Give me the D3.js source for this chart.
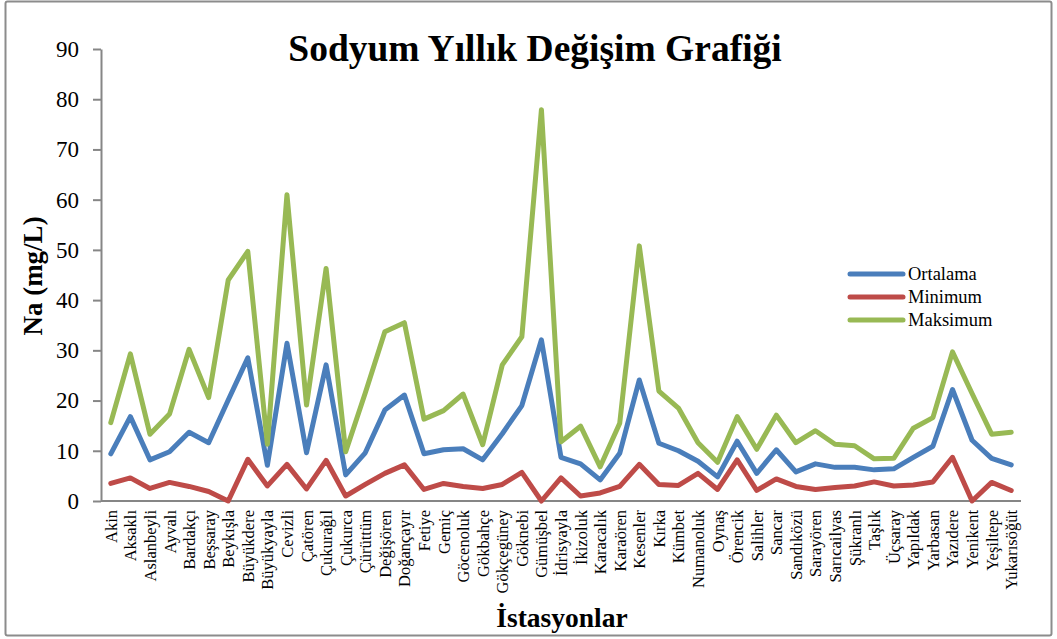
<!DOCTYPE html>
<html><head><meta charset="utf-8">
<script src="https://cdn.jsdelivr.net/npm/d3@7"></script>
<style>body{margin:0;background:#fff}svg{display:block}</style>
</head><body>
<svg id="c" width="1057" height="639"></svg>
<script>
const categories = ["Akin","Aksaklı","Aslanbeyli","Ayvalı","Bardakçı","Beşsaray","Beykışla","Büyükdere","Büyükyayla","Cevizli","Çatören","Çukurağıl","Çukurca","Çürüttüm","Değişören","Doğançayır","Fetiye","Gemiç","Göcenoluk","Gökbahçe","Gökçegüney","Göknebi","Gümüşbel","İdrisyayla","İkizoluk","Karacalık","Karaören","Kesenler","Kırka","Kümbet","Numanoluk","Oynaş","Örencik","Salihler","Sancar","Sandıközü","Sarayören","Sarıcailyas","Şükranlı","Taşlık","Üçsaray","Yapıldak","Yarbasan","Yazıdere","Yenikent","Yeşiltepe","Yukarısöğüt"];
const ortalama = [9.4,16.8,8.2,9.8,13.7,11.6,20.1,28.5,7.1,31.4,9.6,27.1,5.2,9.6,18.1,21.1,9.4,10.2,10.4,8.2,13.4,19.0,32.1,8.7,7.4,4.2,9.5,24.1,11.5,10.0,7.9,4.8,11.9,5.5,10.2,5.8,7.4,6.7,6.7,6.2,6.4,8.7,10.9,22.2,12.1,8.5,7.2];
const minimum = [3.5,4.6,2.5,3.7,2.9,1.9,0,8.3,3.0,7.3,2.4,8.1,1.0,3.3,5.5,7.2,2.3,3.5,2.9,2.5,3.3,5.7,0,4.6,1.0,1.6,2.9,7.3,3.3,3.1,5.5,2.3,8.2,2.1,4.4,2.9,2.3,2.7,3.0,3.8,3.0,3.2,3.8,8.7,0,3.7,2.1];
const maksimum = [15.6,29.3,13.3,17.3,30.2,20.6,44.0,49.7,11.3,61.0,19.1,46.3,9.8,21.5,33.7,35.5,16.3,18.0,21.3,11.2,27.1,32.7,77.9,11.8,14.9,6.8,15.5,50.8,21.9,18.5,11.6,7.7,16.8,10.3,17.1,11.6,14.0,11.3,11.0,8.4,8.5,14.5,16.6,29.7,21.4,13.3,13.7];
const yTicks = [0,10,20,30,40,50,60,70,80,90];
const seriesNames = ["Ortalama","Minimum","Maksimum"];
const seriesColors = ["#4A7EBB","#BE4B48","#98B954"];
const seriesData = [ortalama, minimum, maksimum];

(function(){
const svg = d3.select("#c");
const serif = "Liberation Serif, Times New Roman, serif";
svg.append("rect").attr("x",5.5).attr("y",1.5).attr("width",1046).attr("height",634)
  .attr("fill","#fff").attr("stroke","#8c8c8c").attr("stroke-width",2).attr("rx",2);

const pL=101, pR=1021, pT=49, pB=501;
const x = d3.scalePoint().domain(categories).range([pL,pR]).padding(0.5);
const y = d3.scaleLinear().domain([0,90]).range([pB,pT]);

const ya = svg.append("g").attr("transform",`translate(${pL},0)`)
  .call(d3.axisLeft(y).tickValues(yTicks).tickSize(8).tickPadding(14).tickSizeOuter(0));
ya.select(".domain").attr("stroke","#868686").attr("stroke-width",2);
ya.selectAll(".tick line").attr("stroke","#868686").attr("stroke-width",2);
ya.selectAll("text").attr("font-family",serif).attr("font-size",23).attr("fill","#000");

const xa = svg.append("g").attr("transform",`translate(0,${pB})`)
  .call(d3.axisBottom(x).tickSize(0).tickPadding(0).tickSizeOuter(0));
xa.select(".domain").attr("d",`M${pL},0H${pR}`).attr("stroke","#868686").attr("stroke-width",2);
xa.selectAll("text").attr("font-family",serif).attr("font-size",16.5).attr("fill","#000")
  .attr("text-anchor","end").attr("dy",null).attr("y",0)
  .attr("transform","translate(5.5,9) rotate(-90)");

const line = d3.line().x((d,i)=>x(categories[i])).y(d=>y(d));
seriesData.forEach((s,k)=>{
  svg.append("path").datum(s).attr("d",line).attr("fill","none")
    .attr("stroke",seriesColors[k]).attr("stroke-width",5)
    .attr("stroke-linejoin","round").attr("stroke-linecap","round");
});

svg.append("text").attr("x",535).attr("y",61).attr("text-anchor","middle")
  .attr("font-family",serif).attr("font-weight","bold").attr("font-size",37.5)
  .text("Sodyum Yıllık Değişim Grafiği");
svg.append("text").attr("transform","translate(42,276) rotate(-90)").attr("text-anchor","middle")
  .attr("font-family",serif).attr("font-weight","bold").attr("font-size",27)
  .text("Na (mg/L)");
svg.append("text").attr("x",562).attr("y",627).attr("text-anchor","middle")
  .attr("font-family",serif).attr("font-weight","bold").attr("font-size",27.5)
  .text("İstasyonlar");

const lg = svg.append("g");
seriesNames.forEach((n,k)=>{
  const yy = 274 + k*23;
  lg.append("line").attr("x1",850).attr("x2",903).attr("y1",yy).attr("y2",yy)
    .attr("stroke",seriesColors[k]).attr("stroke-width",5).attr("stroke-linecap","round");
  lg.append("text").attr("x",908).attr("y",yy+6).attr("font-family",serif).attr("font-size",18.5)
    .text(n);
});
})();
</script>
</body></html>
